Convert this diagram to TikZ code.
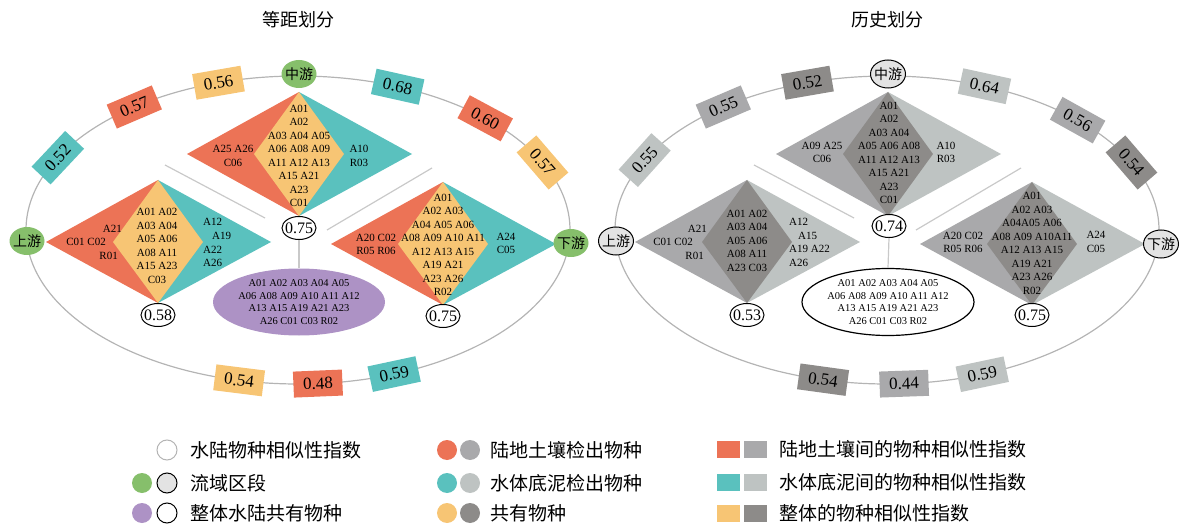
\documentclass[tikz,border=0pt]{standalone}
\usepackage{fontspec}
\setmainfont{Liberation Serif}
\newfontfamily\cjk{Noto Sans CJK SC}
\usetikzlibrary{shapes.geometric}
\definecolor{cred}{HTML}{EC7356}
\definecolor{cteal}{HTML}{5AC1BE}
\definecolor{cyel}{HTML}{F7C574}
\definecolor{cgreen}{HTML}{86BF6B}
\definecolor{cpurp}{HTML}{AD92C5}
\definecolor{gmid}{HTML}{A9A9AB}
\definecolor{glight}{HTML}{BEC3C2}
\definecolor{gdark}{HTML}{8D8B89}
\definecolor{gnode}{HTML}{E3E3E3}
\definecolor{ringc}{HTML}{B4B4B4}
\definecolor{sepc}{HTML}{C9C9C9}

\newcommand\ringlabel[4]{%
  \pgfmathsetmacro\myLX{298+272*cos(#1)}%
  \pgfmathsetmacro\myLY{230-154*sin(#1)}%
  \pgfmathsetmacro\myLR{atan(154*cos(#1)/(-272*sin(#1)))}%
  \node[valbox,fill=#2,rotate=\myLR] (#4) at (\myLX,\myLY) {#3};}

\newcommand\kite[4]{%
  \fill[kiteL] (#1,#2) -- (#1-112,#3) -- (#1,#4) -- cycle;
  \fill[kiteR] (#1,#2) -- (#1+113,#3) -- (#1,#4) -- cycle;
  \fill[kiteM] (#1,#2) -- (#1-45,#3) -- (#1,#4) -- (#1+45,#3) -- cycle;}

\newcommand\panelbase{%
  \draw[ringline] (298,230) ellipse [x radius=272pt, y radius=154pt];
  \draw[sepline] (165,165) -- (265,218);
  \draw[sepline] (327,230) -- (432,168);
  \kite{299}{92}{154}{216}
  \kite{158}{180}{242}{303}
  \kite{443}{182}{244}{305}}

\begin{document}
\begin{tikzpicture}[x=1pt,y=-1pt,
  dtext/.style={font=\fontsize{11}{13.5}\selectfont, align=center, inner sep=0pt},
  valbox/.style={minimum width=49pt, minimum height=26pt, inner sep=0pt, font=\fontsize{17}{17}\selectfont},
  idx/.style={ellipse, draw=black, line width=1pt, fill=white, inner xsep=-5pt, inner ysep=-2pt, minimum width=34pt, minimum height=23pt, font=\fontsize{16}{16}\selectfont},
  reach/.style={ellipse, inner xsep=-5pt, inner ysep=-2pt, minimum width=35pt, minimum height=28pt, font=\cjk\fontsize{14}{14}\selectfont},
  shared/.style={ellipse, inner xsep=0pt, inner ysep=-6pt, minimum width=172pt, minimum height=67pt, align=center, font=\fontsize{10.5}{12.7}\selectfont},
  ringline/.style={draw=ringc, line width=1.2pt},
  sepline/.style={draw=sepc, line width=1.2pt},
  lcirc/.style={circle, minimum size=20pt, inner sep=0pt},
  lsq/.style={rectangle, minimum width=23pt, minimum height=17pt, inner sep=0pt},
  ltext/.style={anchor=west, inner sep=0pt, font=\cjk\fontsize{19}{19}\selectfont},
  ttl/.style={font=\cjk\fontsize{18}{18}\selectfont}]
\useasboundingbox (0,0) rectangle (1184,524);

\node[ttl] (t1) at (298,20) {等距划分};
\node[ttl] (t2) at (887,20) {历史划分};

% ---------------- left panel ----------------
\begin{scope}[kiteL/.style={fill=cred}, kiteR/.style={fill=cteal}, kiteM/.style={fill=cyel}]
\panelbase
\ringlabel{152}{cteal}{0.52}{a1}
\ringlabel{127}{cred}{0.57}{a2}
\ringlabel{107}{cyel}{0.56}{a3}
\ringlabel{68.5}{cteal}{0.68}{a4}
\ringlabel{46.5}{cred}{0.60}{a5}
\ringlabel{26}{cyel}{0.57}{a6}
\ringlabel{257.5}{cyel}{0.54}{a7}
\ringlabel{274.2}{cred}{0.48}{a8}
\ringlabel{290.7}{cteal}{0.59}{a9}
\node[reach, fill=cgreen] (up1) at (27,241) {上游};
\node[reach, fill=cgreen] (mid1) at (299,74) {中游};
\node[reach, fill=cgreen] (dn1) at (571,243) {下游};
\node[dtext] (m1) at (299,156) {A01\\A02\\A03 A04 A05\\A06 A08 A09\\A11 A12 A13\\A15 A21\\A23\\C01};
\node[dtext] (l1) at (233,156) {A25 A26\\C06};
\node[dtext] (r1) at (359,156) {A10\\R03};
\node[dtext] (m2) at (157,246) {A01 A02\\A03 A04\\A05 A06\\A08 A11\\A15 A23\\C03};
\node[dtext, anchor=east] (l2a) at (122,229) {A21};
\node[dtext, anchor=east] (l2b) at (106,242) {C01 C02};
\node[dtext, anchor=east] (l2c) at (118,256) {R01};
\node[dtext, anchor=west] (r2a) at (203,222) {A12};
\node[dtext, anchor=west] (r2b) at (212,236) {A19};
\node[dtext, anchor=west] (r2c) at (203,250) {A22};
\node[dtext, anchor=west] (r2d) at (203,263) {A26};
\node[dtext] (m3) at (443,245) {A01\\A02 A03\\A04 A05 A06\\A08 A09 A10 A11\\A12 A13 A15\\A19 A21\\A23 A26\\R02};
\node[dtext] (l3) at (376,244.5) {A20 C02\\R05 R06};
\node[dtext] (r3) at (506,243.5) {A24\\C05};
\node[idx] (i1) at (299,228) {0.75};
\node[idx] (i2) at (158,315) {0.58};
\node[idx] (i3) at (443,316) {0.75};
\node[shared, fill=cpurp] (s1) at (299,302) {A01 A02 A03 A04 A05\\A06 A08 A09 A10 A11 A12\\A13 A15 A19 A21 A23\\A26 C01 C03 R02};
\draw[sepline] (i1.south) -- (s1.north);
\end{scope}

% ---------------- right panel ----------------
\begin{scope}[xshift=589pt, kiteL/.style={fill=gmid}, kiteR/.style={fill=glight}, kiteM/.style={fill=gdark}]
\panelbase
\ringlabel{153}{glight}{0.55}{b1}
\ringlabel{127}{gmid}{0.55}{b2}
\ringlabel{107}{gdark}{0.52}{b3}
\ringlabel{69}{glight}{0.64}{b4}
\ringlabel{45.5}{gmid}{0.56}{b5}
\ringlabel{26}{gdark}{0.54}{b6}
\ringlabel{256.4}{gdark}{0.54}{b7}
\ringlabel{273.6}{gmid}{0.44}{b8}
\ringlabel{290.5}{glight}{0.59}{b9}
\node[reach, fill=gnode, draw=black, line width=1pt] (up2) at (27,241) {上游};
\node[reach, fill=gnode, draw=black, line width=1pt] (mid2) at (299,74) {中游};
\node[reach, fill=gnode, draw=black, line width=1pt] (dn2) at (572,244) {下游};
\node[dtext] (n1) at (300,153) {A01\\A02\\A03 A04\\A05 A06 A08\\A11 A12 A13\\A15 A21\\A23\\C01};
\node[dtext] (k1) at (233,152.5) {A09 A25\\C06};
\node[dtext] (q1) at (357,152.5) {A10\\R03};
\node[dtext] (n2) at (158,240.5) {A01 A02\\A03 A04\\A05 A06\\A08 A11\\A23 C03};
\node[dtext, anchor=east] (k2a) at (118,229) {A21};
\node[dtext, anchor=east] (k2b) at (104,242) {C01 C02};
\node[dtext, anchor=east] (k2c) at (115,256) {R01};
\node[dtext, anchor=west] (q2a) at (200,222) {A12};
\node[dtext, anchor=west] (q2b) at (209,236) {A15};
\node[dtext, anchor=west] (q2c) at (200,249) {A19 A22};
\node[dtext, anchor=west] (q2d) at (200,263) {A26};
\node[dtext] (n3) at (443,243.5) {A01\\A02 A03\\A04A05 A06\\A08 A09 A10A11\\A12 A13 A15\\A19 A21\\A23 A26\\R02};
\node[dtext] (k3) at (374,242.5) {A20 C02\\R05 R06};
\node[dtext] (q3) at (507,242) {A24\\C05};
\node[idx] (j1) at (300,226) {0.74};
\node[idx] (j2) at (158,315) {0.53};
\node[idx] (j3) at (443,315) {0.75};
\node[shared, fill=white, draw=black, line width=1.2pt] (s2) at (299,302) {A01 A02 A03 A04 A05\\A06 A08 A09 A10 A11 A12\\A13 A15 A19 A21 A23\\A26 C01 C03 R02};
\draw[sepline] (j1.south) -- (s2.north);
\end{scope}

% ---------------- legend ----------------
\node[lcirc, fill=white, draw=ringc, line width=1pt] (g1) at (167,450) {};
\node[ltext] (g1t) at (190,450) {水陆物种相似性指数};
\node[lcirc, fill=cgreen] (g2a) at (142,483) {};
\node[lcirc, fill=gnode, draw=black, line width=1pt] (g2b) at (167,483) {};
\node[ltext] (g2t) at (190,483) {流域区段};
\node[lcirc, fill=cpurp] (g3a) at (142,513) {};
\node[lcirc, fill=white, draw=black, line width=1pt] (g3b) at (167,513) {};
\node[ltext] (g3t) at (190,513) {整体水陆共有物种};

\node[lcirc, fill=cred] (h1a) at (447,450) {};
\node[lcirc, fill=gmid] (h1b) at (470,450) {};
\node[ltext] (h1t) at (490,450) {陆地土壤检出物种};
\node[lcirc, fill=cteal] (h2a) at (447,483) {};
\node[lcirc, fill=glight] (h2b) at (470,483) {};
\node[ltext] (h2t) at (490,483) {水体底泥检出物种};
\node[lcirc, fill=cyel] (h3a) at (447,513) {};
\node[lcirc, fill=gdark] (h3b) at (470,513) {};
\node[ltext] (h3t) at (490,513) {共有物种};

\node[lsq, fill=cred] (p1a) at (728.5,449) {};
\node[lsq, fill=gmid] (p1b) at (755.5,449) {};
\node[ltext] (p1t) at (779,449) {陆地土壤间的物种相似性指数};
\node[lsq, fill=cteal] (p2a) at (728.5,482) {};
\node[lsq, fill=glight] (p2b) at (755.5,482) {};
\node[ltext] (p2t) at (779,482) {水体底泥间的物种相似性指数};
\node[lsq, fill=cyel] (p3a) at (728.5,513) {};
\node[lsq, fill=gdark] (p3b) at (755.5,513) {};
\node[ltext] (p3t) at (779,513) {整体的物种相似性指数};
\end{tikzpicture}
\end{document}
